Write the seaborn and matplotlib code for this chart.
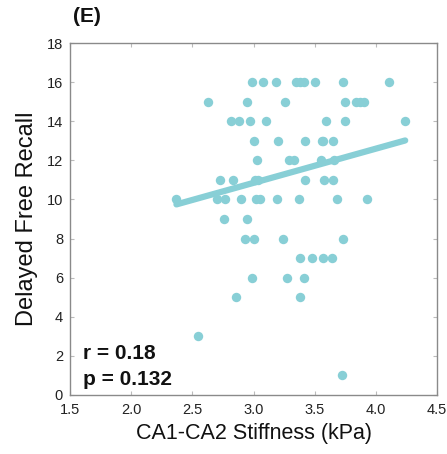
import numpy as np
import pandas as pd
import matplotlib
matplotlib.use("Agg")
import matplotlib.pyplot as plt
import seaborn as sns

# CA1-CA2 stiffness (kPa) and delayed free recall score, one entry per participant
stiffness = [
    2.99, 3.08, 3.18, 3.35, 3.38, 3.41, 3.50, 3.73, 4.11,
    2.63, 2.95, 3.26, 3.75, 3.84, 3.87, 3.90,
    2.82, 2.88, 2.97, 3.10, 3.59, 3.75, 4.24,
    3.00, 3.20, 3.42, 3.56, 3.57, 3.65,
    3.03, 3.29, 3.33, 3.55, 3.66,
    2.73, 2.83, 3.01, 3.04, 3.42, 3.58, 3.65,
    2.37, 2.70, 2.77, 2.90, 3.02, 3.05, 3.19, 3.37, 3.68, 3.93,
    2.76, 2.95,
    2.93, 3.00, 3.24, 3.73,
    3.38, 3.48, 3.57, 3.64,
    2.99, 3.27, 3.41,
    2.86, 3.38,
    2.55,
    3.72,
]
recall = (
    [16] * 9 + [15] * 7 + [14] * 7 + [13] * 6 + [12] * 5 + [11] * 7
    + [10] * 10 + [9] * 2 + [8] * 4 + [7] * 4 + [6] * 3 + [5] * 2 + [3] + [1]
)

x_ticks = [1.5, 2.0, 2.5, 3.0, 3.5, 4.0, 4.5]
y_ticks = [0, 2, 4, 6, 8, 10, 12, 14, 16, 18]
stats_text = ["r = 0.18", "p = 0.132"]
panel_label = "(E)"

df = pd.DataFrame({"stiffness": stiffness, "recall": recall})

sns.set_style("white")
plt.rcParams["font.family"] = ["Liberation Sans", "DejaVu Sans"]

teal = "#88CFD6"
fig = plt.figure(figsize=(4.47, 4.54), dpi=100)
ax = fig.add_axes([70 / 447, 1 - 395 / 454, 367 / 447, 352 / 454])

sns.scatterplot(data=df, x="stiffness", y="recall", ax=ax, color=teal,
                s=46, linewidth=0, zorder=3)
sns.regplot(data=df, x="stiffness", y="recall", ax=ax, scatter=False, ci=None,
            color=teal, line_kws={"linewidth": 4.5, "solid_capstyle": "round"})

ax.set_xlim(1.5, 4.5)
ax.set_ylim(0, 18)
ax.set_xticks(x_ticks)
ax.set_xticklabels([f"{v:.1f}" for v in x_ticks])
ax.set_yticks(y_ticks)
ax.set_yticklabels([str(v) for v in y_ticks])
ax.tick_params(direction="in", length=3, width=0.8, color="#bbbbbb",
               labelsize=10.5, labelcolor="#222222", top=True, right=True,
               bottom=True, left=True)
ax.tick_params(axis="x", pad=6)
ax.tick_params(axis="y", pad=5)
for sp in ax.spines.values():
    sp.set_color("#8a8a8a")
    sp.set_linewidth(1.0)

ax.set_xlabel("CA1-CA2 Stiffness (kPa)", fontsize=15.5, color="#111111",
              labelpad=4)
ax.set_ylabel("Delayed Free Recall", fontsize=17, color="#111111",
              labelpad=6.5)

ax.text(0.035, 0.102, stats_text[0], transform=ax.transAxes, fontsize=15,
        fontweight="bold", color="#111111", va="baseline")
ax.text(0.035, 0.028, stats_text[1], transform=ax.transAxes, fontsize=15,
        fontweight="bold", color="#111111", va="baseline")
fig.text(73 / 447, 1 - 7 / 454, panel_label, fontsize=15, fontweight="bold",
         color="#111111", va="top")

fig.savefig("out.png", dpi=100)
